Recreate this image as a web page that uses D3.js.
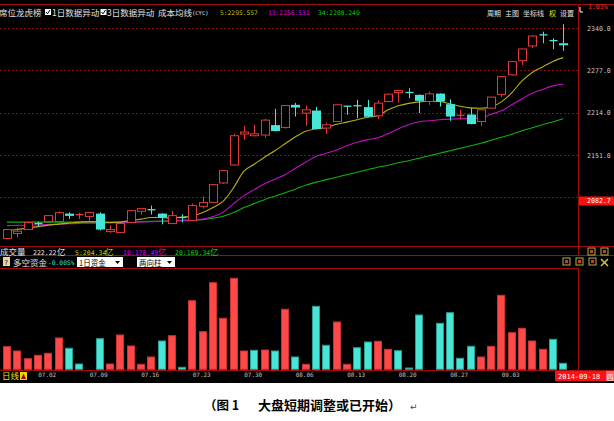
<!DOCTYPE html>
<html><head><meta charset="utf-8">
<script src="https://cdn.jsdelivr.net/npm/d3@7"></script>
<style>
html,body{margin:0;padding:0;background:#fff;}
svg{display:block;}
</style></head><body>
<svg id="c" width="614" height="421"></svg>
<script>
// ---------- DATA ----------
const dates = ["06.26","06.27","06.30","07.01","07.02","07.03","07.04","07.07","07.08","07.09",
  "07.10","07.11","07.14","07.15","07.16","07.17","07.18","07.21","07.22","07.23",
  "07.24","07.25","07.28","07.29","07.30","07.31","08.01","08.04","08.05","08.06",
  "08.07","08.08","08.11","08.12","08.13","08.14","08.15","08.18","08.19","08.20",
  "08.21","08.22","08.25","08.26","08.27","08.28","08.29","09.01","09.02","09.03",
  "09.04","09.05","09.09","09.10","09.11"];
const openP  = [2027.0,2034.4,2040.3,2049.5,2052.1,2052.1,2064.0,2062.0,2059.6,2064.0,
  2037.3,2035.8,2050.7,2067.4,2070.0,2064.0,2049.2,2058.5,2053.6,2074.8,
  2080.7,2109.5,2136.1,2182.1,2179.6,2180.6,2195.4,2191.9,2225.5,2213.2,
  2217.0,2191.0,2200.7,2223.5,2224.2,2222.1,2209.2,2230.4,2243.7,2243.9,
  2240.3,2230.4,2242.2,2226.5,2209.8,2211.1,2200.7,2220.6,2240.7,2269.9,
  2291.1,2312.9,2329.5,2321.0,2316.9];
const highP  = [2041.0,2043.2,2051.5,2052.1,2061.5,2067.4,2066.0,2065.0,2066.0,2066.0,
  2046.2,2050.0,2069.0,2071.5,2075.9,2064.5,2068.0,2063.0,2079.0,2089.2,
  2108.0,2128.5,2182.5,2194.4,2195.9,2204.8,2219.6,2225.0,2228.4,2224.4,
  2222.5,2199.3,2227.0,2224.0,2232.9,2232.9,2231.9,2242.0,2247.0,2250.2,
  2240.8,2245.2,2242.5,2233.9,2218.1,2220.6,2218.5,2237.5,2268.0,2290.5,
  2309.0,2328.5,2334.1,2324.3,2345.0];
const lowP   = [2026.0,2028.4,2040.0,2044.7,2051.5,2051.5,2056.0,2056.0,2053.6,2039.0,
  2035.5,2035.0,2050.0,2062.5,2062.5,2048.0,2048.5,2051.0,2053.0,2071.4,
  2080.0,2108.0,2135.0,2173.6,2178.5,2176.6,2186.0,2190.0,2208.1,2194.4,
  2189.0,2182.5,2200.0,2210.7,2205.8,2207.0,2204.3,2230.0,2228.9,2235.4,
  2213.2,2225.5,2223.0,2201.8,2204.3,2196.5,2194.4,2220.0,2236.9,2269.0,
  2284.7,2309.5,2316.9,2308.0,2305.5];
const closeP = [2040.3,2037.8,2050.7,2049.0,2061.0,2065.5,2060.6,2062.8,2065.5,2040.3,
  2040.3,2049.2,2068.4,2071.4,2069.5,2058.1,2061.0,2058.0,2075.9,2080.3,
  2107.0,2127.7,2179.6,2185.0,2182.5,2202.8,2186.5,2224.4,2221.5,2218.1,
  2189.5,2195.9,2225.5,2223.3,2224.0,2207.8,2228.0,2241.3,2246.7,2243.7,
  2231.4,2241.8,2230.4,2208.1,2210.2,2196.9,2218.1,2236.9,2267.4,2289.6,
  2308.4,2327.7,2329.2,2320.7,2313.9];
// cost moving averages (CYC) 5 / 13 / 34
const cyc5  = [2038.8,2040.3,2042.5,2044.7,2046.9,2048.4,2049.9,2051.4,2052.1,2051.4,
  2050.7,2051.4,2053.6,2055.8,2058.1,2058.1,2057.3,2058.8,2060.3,2065.5,
  2072.9,2082.5,2102.5,2126.9,2137.3,2147.7,2157.3,2167.7,2178.0,2186.2,
  2189.9,2191.8,2196.6,2199.8,2203.3,2207.0,2209.2,2218.1,2224.0,2227.7,
  2229.9,2230.7,2230.4,2227.0,2223.3,2221.0,2220.3,2222.5,2229.9,2243.3,
  2261.0,2273.6,2281.8,2289.9,2295.6];
const cyc13 = [2046.2,2046.5,2046.9,2047.3,2047.7,2048.3,2048.9,2049.5,2049.9,2049.9,
  2050.2,2050.7,2051.1,2051.7,2052.1,2052.4,2052.9,2053.6,2054.7,2055.8,
  2059.6,2066.2,2078.8,2090.7,2099.6,2108.4,2115.1,2121.8,2131.4,2140.3,
  2149.2,2153.6,2158.4,2164.7,2169.9,2173.6,2176.6,2182.5,2189.9,2195.9,
  2200.3,2201.8,2203.3,2204.3,2204.7,2205.2,2205.8,2211.4,2216.6,2225.5,
  2234.4,2242.5,2248.4,2253.6,2256.5];
const cyc34 = [2051.4,2051.4,2051.4,2051.4,2051.4,2051.4,2051.4,2051.4,2051.4,2051.4,
  2051.4,2051.4,2051.7,2052.1,2052.4,2052.9,2053.3,2053.9,2054.5,2055.1,
  2057.3,2060.0,2065.5,2072.9,2078.8,2084.7,2089.9,2095.1,2100.3,2106.2,
  2110.7,2114.4,2118.1,2121.8,2125.5,2129.2,2132.9,2135.9,2139.6,2142.5,
  2146.2,2149.9,2153.6,2157.3,2161.0,2164.7,2168.4,2172.9,2177.3,2181.8,
  2187.0,2191.4,2196.0,2200.3,2205.0];
// 多空资金 (two-direction bars): positive = red, negative = cyan
const flow = [22.6,18.3,10.6,14.0,16.0,31.3,-21.0,-5.3,0,-30.6,
  5.3,34.3,23.3,5.0,12.3,-28.3,33.6,-2.0,68.6,37.6,
  86.6,51.0,91.0,18.3,-19.0,19.3,-18.3,60.0,-12.3,5.0,
  -63.0,-24.0,47.3,5.0,-21.6,-27.3,28.0,20.0,-18.6,-1.3,
  -54.3,0,-46.0,-56.6,-11.0,-23.0,12.3,23.0,74.0,36.6,
  41.0,28.3,20.0,-30.0,-6.0];
const priceTicks = [2340.0, 2277.0, 2214.0, 2151.0];
const gridTicks = [2340.0, 2277.0, 2214.0, 2151.0, 2088.0];
const dateTicks = ["07.02","07.09","07.16","07.23","07.30","08.06","08.13","08.20","08.27","09.03"];
const lastPrice = 2082.7;

// ---------- DRAW ----------
const svg = d3.select("#c");
const RED = "#ff4848", RED_D = "#c83434", CYAN = "#48e6d6", CYAN_D = "#2a9c92";
const LINE = "#a00c0c";
const MONO = "'DejaVu Sans Mono','Liberation Mono',monospace";
const CJK = "'Noto Sans CJK SC','Noto Sans',sans-serif";

svg.append("rect").attr("x",0).attr("y",0).attr("width",614).attr("height",383).attr("fill","#000");

const x = d3.scaleLinear().domain([0, dates.length-1]).range([7, 563.2]);
const yP = d3.scaleLinear().domain([2151, 2340]).range([155, 27.7]);
const yV = d3.scaleLinear().domain([0, 100]).range([369.3, 269.3]);
const bw = 8;

// separator lines
const hl = (y, x1, x2) => svg.append("line").attr("x1",x1).attr("x2",x2).attr("y1",y).attr("y2",y)
  .attr("stroke",LINE).attr("stroke-width",1);
hl(4.5, 0, 614); hl(246.5, 0, 614); hl(255.5, 0, 614); hl(268.5, 0, 578); hl(370.5, 0, 614);
svg.append("line").attr("x1",578.5).attr("x2",578.5).attr("y1",4.5).attr("y2",256).attr("stroke",LINE);
svg.append("line").attr("x1",578.5).attr("x2",578.5).attr("y1",268).attr("y2",370).attr("stroke",LINE);

// grid + price axis
const yAxis = d3.axisRight(yP).tickValues(priceTicks).tickSize(0).tickFormat(d3.format(".1f"));
const ga = svg.append("g").attr("transform","translate(586,0)").call(yAxis);
ga.select(".domain").remove();
ga.selectAll("text").attr("x",1).attr("fill","#c8c8c8").attr("font-family",MONO).attr("font-size","6.6px").attr("dy","0.35em");
svg.append("g").selectAll("line").data(gridTicks).join("line")
  .attr("x1",0).attr("x2",578).attr("y1",d=>Math.round(yP(d))+0.5).attr("y2",d=>Math.round(yP(d))+0.5)
  .attr("stroke","#8c0a0a").attr("stroke-dasharray","2,2");

// last price box
svg.append("rect").attr("x",579).attr("y",yP(lastPrice)-4.5).attr("width",35).attr("height",9).attr("fill","#ff1010");
svg.append("text").attr("x",587).attr("y",yP(lastPrice)).attr("dy","0.35em").attr("fill","#fff")
  .attr("font-family",MONO).attr("font-size","6.6px").text(lastPrice.toFixed(1));

// MA lines
const maLine = arr => d3.line().x((d,i)=>x(i)).y(d=>yP(d)).curve(d3.curveMonotoneX)(arr);
svg.append("path").attr("d",maLine(cyc34)).attr("fill","none").attr("stroke","#10b010").attr("stroke-width",1.1);
svg.append("path").attr("d",maLine(cyc13)).attr("fill","none").attr("stroke","#c010c0").attr("stroke-width",1.1);
svg.append("path").attr("d",maLine(cyc5)).attr("fill","none").attr("stroke","#b8b010").attr("stroke-width",1.1);

// candles
const idx = d3.range(dates.length);
const cg = svg.append("g");
idx.forEach(i=>{
  const up = closeP[i] >= openP[i];
  const cx = Math.round(x(i)) + 0.5;
  const top = yP(Math.max(openP[i], closeP[i])), bot = yP(Math.min(openP[i], closeP[i]));
  const col = up ? "#e03a3a" : CYAN;
  const h = Math.max(bot - top, 0);
  if (h < 1.5) {
    cg.append("line").attr("x1",cx).attr("x2",cx).attr("y1",yP(highP[i])).attr("y2",yP(lowP[i])).attr("stroke",col);
    cg.append("line").attr("x1",cx-4).attr("x2",cx+4).attr("y1",(top+bot)/2).attr("y2",(top+bot)/2).attr("stroke",col).attr("stroke-width",1.3);
  } else if (up) {
    cg.append("line").attr("x1",cx).attr("x2",cx).attr("y1",yP(highP[i])).attr("y2",top).attr("stroke",col);
    cg.append("line").attr("x1",cx).attr("x2",cx).attr("y1",bot).attr("y2",yP(lowP[i])).attr("stroke",col);
    cg.append("rect").attr("x",cx-4).attr("y",top).attr("width",bw).attr("height",h)
      .attr("fill","#000").attr("stroke",col).attr("stroke-width",1);
  } else {
    cg.append("line").attr("x1",cx).attr("x2",cx).attr("y1",yP(highP[i])).attr("y2",yP(lowP[i])).attr("stroke",col);
    cg.append("rect").attr("x",cx-4.5).attr("y",top).attr("width",bw+1).attr("height",h).attr("fill",col);
  }
});

// flow bars
svg.append("g").selectAll("rect").data(flow).join("rect")
  .attr("x",(d,i)=>Math.round(x(i))-4+0.5).attr("width",bw-1)
  .attr("y",d=>yV(Math.abs(d))).attr("height",d=>yV(0)-yV(Math.abs(d)))
  .attr("fill",d=>d>=0?RED:CYAN).attr("stroke",d=>d>=0?RED_D:CYAN_D).attr("stroke-width",1)
  .attr("display",d=>d===0?"none":null);

// date axis
const xAxis = d3.axisBottom(x).tickValues(dateTicks.map(t=>dates.indexOf(t))).tickSize(0).tickFormat(i=>dates[i]);
const gx = svg.append("g").attr("transform","translate(-1.5,371)").call(xAxis);
gx.select(".domain").remove();
gx.selectAll("text").attr("y",2).attr("fill","#c0c0c0").attr("font-family",MONO).attr("font-size","6px").attr("dy","0.71em");

// bottom-left
svg.append("text").attr("x",2).attr("y",379).attr("fill","#e8e800").attr("font-family",CJK).attr("font-size","8.5px").text("日线");
svg.append("rect").attr("x",20).attr("y",372).attr("width",7).attr("height",8).attr("fill","#e8d800");
svg.append("path").attr("d","M21,379 L23.5,373.5 L26,379 Z").attr("fill","#b00000");

// date box
svg.append("rect").attr("x",555).attr("y",371).attr("width",52).attr("height",10).attr("fill","#ff1010");
svg.append("text").attr("x",558).attr("y",379).attr("fill","#fff").attr("font-family",MONO).attr("font-size","7px").text("2014-09-18");
svg.append("rect").attr("x",606).attr("y",371).attr("width",8).attr("height",10).attr("fill","#ff6060");
svg.append("text").attr("x",606.5).attr("y",379.5).attr("fill","#fff").attr("font-family",CJK).attr("font-size","7px").text("四");

// header
const T = (xx, yy, s, col, fam, fs) => svg.append("text").attr("x",xx).attr("y",yy).attr("fill",col)
  .attr("font-family",fam).attr("font-size",fs).text(s);
T(-1, 15.5, "席位龙虎榜", "#e0e0e0", CJK, "8.5px");
const cb = xx => { svg.append("rect").attr("x",xx).attr("y",9).attr("width",6).attr("height",6).attr("fill","#fff");
  svg.append("path").attr("d",`M${xx+1},12 L${xx+2.5},13.8 L${xx+5},10`).attr("stroke","#000").attr("fill","none"); };
cb(45); T(52, 15.5, "1日数据异动", "#e0e0e0", CJK, "8.5px");
cb(100.5); T(107, 15.5, "3日数据异动", "#e0e0e0", CJK, "8.5px");
T(158, 15.5, "成本均线", "#e0e0e0", CJK, "8.5px");
T(192, 15, "(CYC)", "#e0e0e0", MONO, "5.5px");
T(220, 15, "5:2295.557", "#c8c800", MONO, "6.3px");
T(268, 15, "13:2256.531", "#e000e0", MONO, "6.3px");
T(318, 15, "34:2208.249", "#10d010", MONO, "6.3px");
T(487, 15.5, "周期", "#e0e0e0", CJK, "7px");
T(505, 15.5, "主图", "#e0e0e0", CJK, "7px");
T(523, 15.5, "坐标线", "#e0e0e0", CJK, "7px");
T(549, 15.5, "权", "#e8e800", CJK, "7px");
T(560, 15.5, "设置", "#e0e0e0", CJK, "7px");
svg.append("path").attr("d","M580,7 V12 H583").attr("stroke","#fff").attr("fill","none");
T(588, 9, "1.03%", "#ff3030", MONO, "6.5px");

// volume row
T(0, 255, "成交量", "#e0e0e0", CJK, "8.5px");
T(33, 254.5, "222.22", "#e0e0e0", MONO, "6.5px"); T(57, 255, "亿", "#e0e0e0", CJK, "8.5px");
T(75, 254.5, "5:204.34", "#c8c800", MONO, "6.5px"); T(105, 255, "亿", "#c8c800", CJK, "8.5px");
T(123, 254.5, "10:178.49", "#e000e0", MONO, "6.5px"); T(158, 255, "亿", "#e000e0", CJK, "8.5px");
T(175, 254.5, "20:169.34", "#10d010", MONO, "6.5px"); T(210, 255, "亿", "#10d010", CJK, "8.5px");

// flow row
svg.append("rect").attr("x",3).attr("y",257).attr("width",7).attr("height",9).attr("fill","#e8d8a0");
T(4, 265, "?", "#000", MONO, "7px");
T(13, 266, "多空资金", "#e0e0e0", CJK, "8.5px");
T(48, 265, "-0.005%", "#30e0d0", MONO, "6.3px");
svg.append("rect").attr("x",77).attr("y",257).attr("width",46).attr("height",10).attr("fill","#fff");
T(79, 265.5, "1日资金", "#000", CJK, "7.5px");
svg.append("path").attr("d","M115,261 L120,261 L117.5,264 Z").attr("fill","#000");
svg.append("rect").attr("x",137).attr("y",257).attr("width",38).attr("height",10).attr("fill","#fff");
T(139, 265.5, "两向柱", "#000", CJK, "7.5px");
svg.append("path").attr("d","M167,261 L172,261 L169.5,264 Z").attr("fill","#000");

// small icons on right
const icon = (xx, yy, c) => { svg.append("rect").attr("x",xx).attr("y",yy).attr("width",7).attr("height",7)
  .attr("fill","none").attr("stroke",c); svg.append("rect").attr("x",xx+2).attr("y",yy+2).attr("width",3).attr("height",3).attr("fill","#c04030"); };
icon(588, 248, "#b0b040"); icon(601, 248, "#b0b040");
icon(563, 258, "#b0b040"); icon(576, 258, "#b0b040"); icon(589, 258, "#b0b040");
svg.append("path").attr("d","M601,259 L608,266 M608,259 L601,266").attr("stroke","#c8c840").attr("stroke-width",1.5);

// caption
svg.append("text").attr("x",204).attr("y",410).attr("fill","#000").attr("font-family",CJK)
  .attr("font-weight","bold").attr("font-size","12.5px").text("（图 1");
svg.append("text").attr("x",258).attr("y",410).attr("fill","#000").attr("font-family",CJK)
  .attr("font-weight","bold").attr("font-size","13px").text("大盘短期调整或已开始）");
T(410, 410, "↵", "#444", "DejaVu Sans", "9px");
</script>
</body></html>
